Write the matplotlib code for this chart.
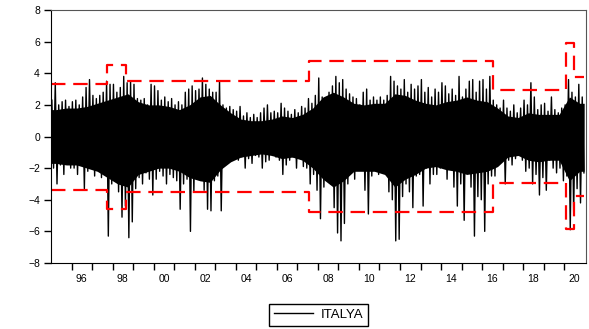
import matplotlib
matplotlib.use("Agg")
import matplotlib.pyplot as plt
import numpy as np

plt.rcParams['font.family'] = ['Liberation Sans', 'DejaVu Sans']

# daily returns summarised as 2-month highs and lows (6 bins per year, 1995-2020)
hi = [2.3, 3.4, 2.0, 2.2, 2.3, 1.9,   # 1995
      2.2, 2.3, 2.0, 2.5, 3.1, 3.6,   # 1996
      2.6, 2.4, 2.6, 2.8, 3.5, 3.3,   # 1997
      3.3, 2.8, 3.1, 3.8, 3.4, 3.5,   # 1998
      3.3, 2.4, 2.3, 2.4, 2.0, 3.3,   # 1999
      3.2, 2.9, 2.3, 2.5, 2.2, 2.4,   # 2000
      2.0, 2.2, 2.0, 2.8, 3.0, 3.2,   # 2001
      2.9, 3.0, 3.7, 3.3, 3.0, 2.8,   # 2002
      2.8, 3.5, 2.0, 1.8, 1.9, 1.7,   # 2003
      1.6, 1.9, 1.3, 1.5, 1.2, 1.4,   # 2004
      1.2, 1.5, 1.8, 2.0, 1.5, 1.6,   # 2005
      1.5, 2.1, 1.8, 1.6, 1.4, 1.7,   # 2006
      1.5, 1.9, 1.8, 2.4, 2.1, 2.6,   # 2007
      3.7, 2.5, 2.3, 2.8, 3.2, 3.8,   # 2008
      3.4, 3.6, 3.0, 2.7, 2.5, 2.4,   # 2009
      2.0, 2.8, 3.0, 2.3, 2.5, 2.3,   # 2010
      2.5, 2.3, 2.6, 3.8, 3.5, 3.2,   # 2011
      3.0, 3.6, 2.8, 3.3, 3.0, 3.2,   # 2012
      3.6, 2.8, 3.1, 2.5, 3.0, 2.8,   # 2013
      3.4, 3.2, 2.7, 3.0, 2.6, 3.8,   # 2014
      2.5, 3.0, 3.5, 3.6, 2.8, 3.5,   # 2015
      3.6, 3.0, 3.8, 2.3, 2.0, 1.8,   # 2016
      2.3, 1.8, 1.6, 2.0, 1.5, 1.8,   # 2017
      2.3, 2.0, 3.4, 2.5, 1.7, 2.0,   # 2018
      2.1, 1.6, 2.5, 1.7, 1.5, 1.8,   # 2019
      2.0, 3.6, 2.8, 2.5, 3.3, 2.5]   # 2020
lo = [-2.0, -3.0, -1.8, -2.4, -1.6, -2.0,   # 1995
      -2.0, -2.4, -1.8, -3.3, -2.2, -1.8,   # 1996
      -2.5, -2.0, -2.6, -2.2, -6.3, -3.0,   # 1997
      -2.5, -3.5, -5.1, -4.4, -6.4, -5.4,   # 1998
      -3.3, -2.6, -3.0, -2.3, -2.7, -3.7,   # 1999
      -2.7, -2.2, -2.5, -3.0, -2.4, -2.6,   # 2000
      -2.8, -4.6, -3.0, -2.7, -6.0, -3.5,   # 2001
      -2.3, -2.0, -3.4, -4.6, -4.7, -2.8,   # 2002
      -2.5, -4.7, -1.8, -1.5, -1.5, -1.2,   # 2003
      -1.5, -1.3, -2.0, -1.4, -1.7, -1.2,   # 2004
      -1.3, -2.0, -1.6, -1.5, -1.2, -1.3,   # 2005
      -1.5, -2.4, -1.8, -1.5, -1.3, -2.0,   # 2006
      -1.3, -1.9, -2.0, -3.0, -2.4, -3.4,   # 2007
      -5.2, -3.2, -2.5, -3.0, -4.5, -6.1,   # 2008
      -6.6, -5.5, -3.0, -2.0, -2.7, -1.8,   # 2009
      -2.0, -3.4, -4.9, -2.5, -2.0, -2.4,   # 2010
      -2.0, -2.2, -3.5, -4.0, -6.6, -6.5,   # 2011
      -3.8, -3.0, -3.5, -4.5, -2.5, -2.4,   # 2012
      -4.4, -2.0, -3.0, -2.4, -2.4, -2.0,   # 2013
      -1.8, -2.7, -2.0, -3.2, -4.4, -3.0,   # 2014
      -5.3, -2.0, -3.2, -6.3, -3.8, -4.0,   # 2015
      -6.0, -3.0, -2.5, -2.5, -1.8, -1.5,   # 2016
      -3.0, -1.5, -1.8, -1.4, -1.0, -1.5,   # 2017
      -2.2, -2.0, -3.0, -2.4, -3.7, -2.6,   # 2018
      -3.4, -1.5, -2.0, -2.3, -2.0, -2.8,   # 2019
      -2.5, -5.9, -4.8, -3.3, -4.2, -2.3]   # 2020

# dense black core of the series, half-year edges
core_hi = [1.7, 1.8, 1.8, 1.9, 2.1, 2.3, 2.5, 2.7, 2.2, 2.0, 2.0, 1.9, 1.7, 2.0,
           2.5, 2.6, 2.0, 1.5, 1.1, 1.0, 1.0, 1.1, 1.3, 1.2, 1.4, 1.8, 2.5, 2.8,
           2.5, 2.1, 2.0, 2.1, 2.1, 2.7, 2.6, 2.3, 2.1, 2.0, 2.2, 2.3, 2.5, 2.3,
           2.2, 1.8, 1.3, 1.2, 1.5, 1.4, 1.4, 1.4, 2.5, 2.1]
core_lo = [-1.7, -1.8, -1.8, -2.0, -2.2, -2.6, -3.0, -3.2, -2.4, -2.2, -2.0, -2.0, -2.2, -2.6,
           -2.8, -2.9, -2.1, -1.6, -1.3, -1.2, -1.1, -1.2, -1.4, -1.3, -1.5, -2.0, -2.7, -3.2,
           -2.8, -2.2, -2.2, -2.2, -2.4, -3.2, -2.7, -2.4, -2.0, -1.9, -2.1, -2.2, -2.4, -2.3,
           -2.2, -1.9, -1.3, -1.2, -1.5, -1.6, -1.5, -1.5, -2.8, -2.2]

# volatility regime bands (red dashed)
band_edges = [1995.0, 1997.75, 1998.66, 2007.57, 2016.52, 2020.07, 2020.49, 2020.95]
band_upper = [3.33, 4.55, 3.52, 4.75, 2.91, 5.91, 3.76]
band_lower = [-3.37, -4.6, -3.52, -4.75, -2.91, -5.88, -3.75]

years = list(range(1995, 2022))
year_labels = ['96', '98', '00', '02', '04', '06', '08', '10', '12', '14', '16', '18', '20']

# zigzag through high/low of each bin
t = 1995 + np.arange(len(hi)) / 6.0
xs = np.empty(2 * len(hi))
ys = np.empty(2 * len(hi))
xs[0::2] = t + 1 / 24
xs[1::2] = t + 3 / 24
ys[0::2] = hi
ys[1::2] = lo

th = 1995.25 + np.arange(len(core_hi)) / 2.0
th = np.concatenate([[1995.02], th, [2020.97]])
ch = np.concatenate([[core_hi[0]], core_hi, [core_hi[-1]]])
cl = np.concatenate([[core_lo[0]], core_lo, [core_lo[-1]]])

fig = plt.figure(figsize=(5.89, 3.29), dpi=100)
ax = fig.add_axes([0.0866, 0.2006, 0.908, 0.769])

ax.fill_between(th, cl, ch, color='black', lw=0)
line, = ax.plot(xs, ys, color='black', lw=1.0, label='ITALYA')

up = band_upper + [band_upper[-1]]
dn = band_lower + [band_lower[-1]]
ax.plot(band_edges, up, drawstyle='steps-post', color='red', lw=1.6, dashes=(6.5, 3.5))
ax.plot(band_edges, dn, drawstyle='steps-post', color='red', lw=1.6, dashes=(6.5, 3.5))

ax.set_xlim(1995.0, 2021.05)
ax.set_ylim(-8, 8)
ax.set_yticks(range(-8, 9, 2))
ax.set_xticks(years[1:-1])
ax.set_xticklabels([])
ax.set_xticks([y + 0.5 for y in range(1996, 2021, 2)], minor=True)
ax.set_xticklabels(year_labels, minor=True)
ax.tick_params(axis='x', which='major', direction='out', length=5, width=1)
ax.tick_params(axis='x', which='minor', length=0, pad=8, labelsize=7.5)
ax.tick_params(axis='y', direction='out', length=5, width=1, pad=3, labelsize=7.5)

for s in ['left', 'bottom']:
    ax.spines[s].set_color('black')
for s in ['top', 'right']:
    ax.spines[s].set_color('#555555')

leg = fig.legend(handles=[line], loc='center', bbox_to_anchor=(0.541, 0.043),
                 fancybox=False, edgecolor='black', framealpha=1, fontsize=9.5,
                 handlelength=3.0, borderpad=0.35, handletextpad=0.6)
leg.get_frame().set_linewidth(1.0)

plt.savefig('out.png', dpi=100)
